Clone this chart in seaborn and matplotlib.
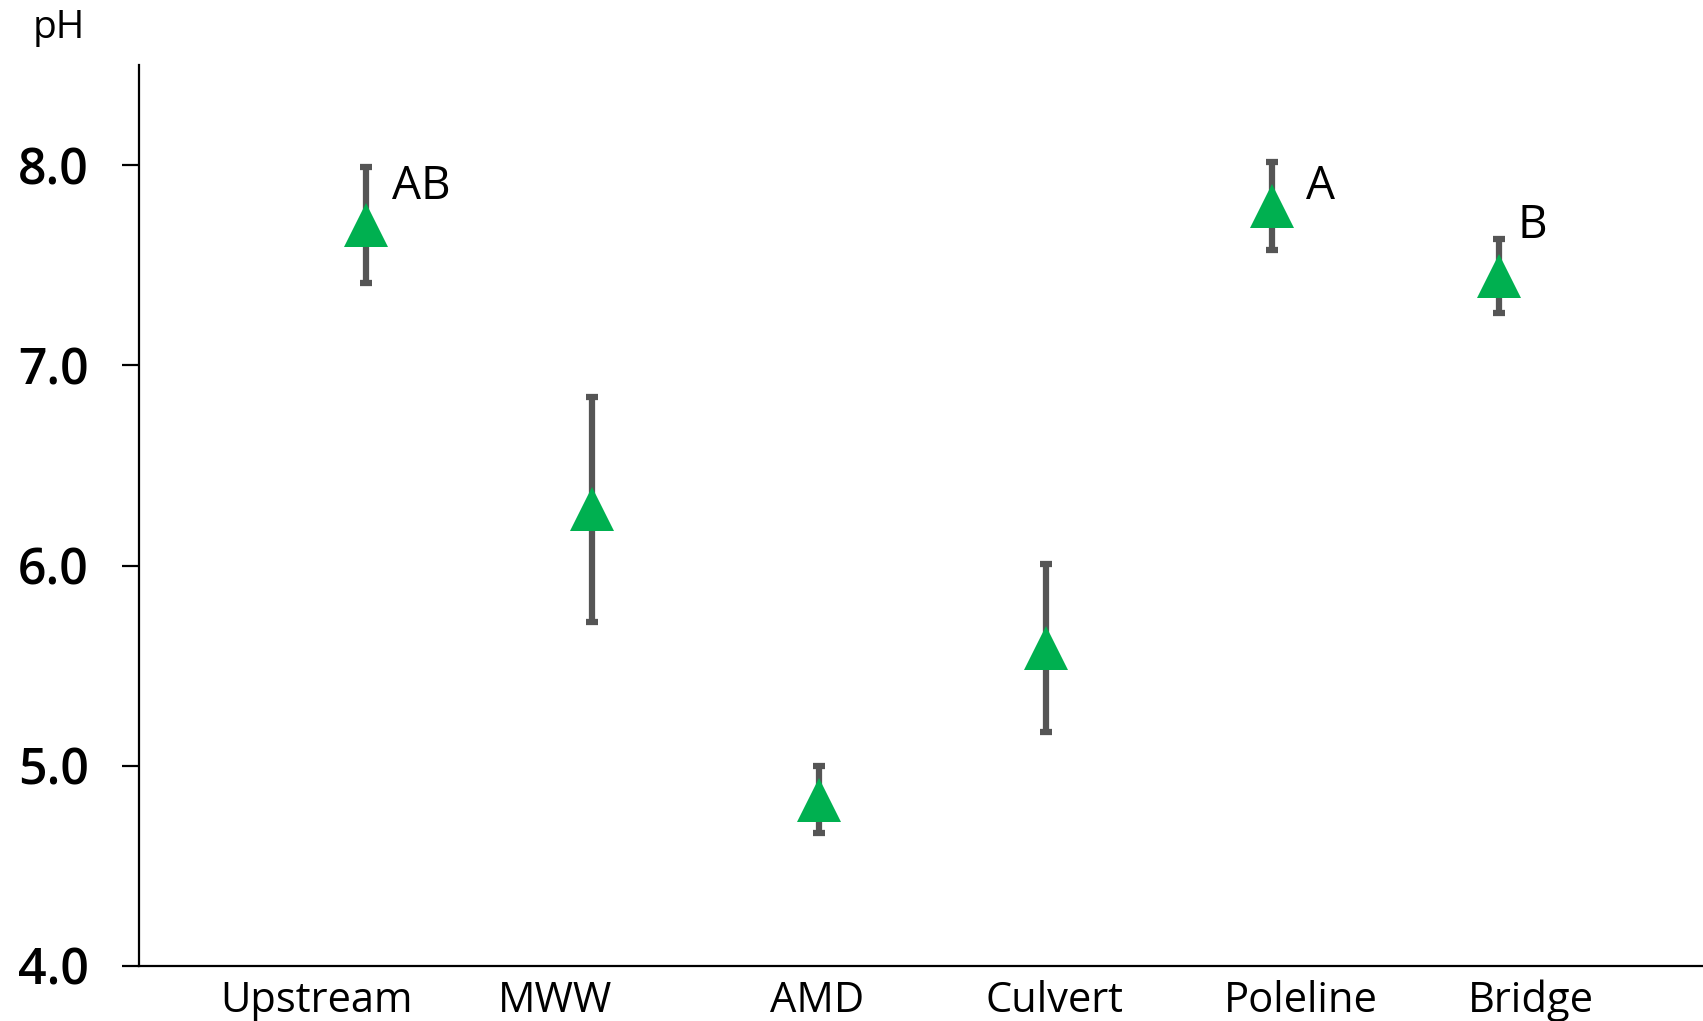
import matplotlib
matplotlib.use("Agg")
import matplotlib.pyplot as plt
import numpy as np
import seaborn as sns

sites = ["Upstream", "MWW", "AMD", "Culvert", "Poleline", "Bridge"]
ph_mean = [7.70, 6.28, 4.83, 5.59, 7.795, 7.447]
ph_err = [0.29, 0.56, 0.167, 0.42, 0.22, 0.185]
letters = ["AB", "", "", "", "A", "B"]
letter_y = [7.83, None, None, None, 7.83, 7.637]
yticks = [4.0, 5.0, 6.0, 7.0, 8.0]

sns.set_style("white")
plt.rcParams["font.family"] = ["Open Sans", "DejaVu Sans"]
plt.rcParams["text.color"] = "black"
plt.rcParams["xtick.color"] = "black"
plt.rcParams["ytick.color"] = "black"

fig = plt.figure(figsize=(17.03, 10.21), dpi=100)
ax = fig.add_axes([0.0816, 0.0539, 0.9184, 0.8824])

sns.pointplot(x=sites, y=ph_mean, errorbar=None, color="#00B050",
              marker="^", markersize=31, linestyle="none",
              markeredgewidth=0, ax=ax, zorder=3)

pos = np.arange(len(sites))
ax.errorbar(pos, ph_mean, yerr=ph_err, fmt="none", ecolor="#555555",
            elinewidth=4.5, capsize=4.3, capthick=4.5, zorder=1)

for i, (txt, ly) in enumerate(zip(letters, letter_y)):
    if txt:
        dx = {"AB": 0.115, "A": 0.15, "B": 0.08}[txt]
        ax.text(i + dx, ly, txt, fontsize=33, va="baseline", ha="left")

ax.set_xlim(-1.0, 5.9)
ax.set_ylim(4.0, 8.5)
ax.set_yticks(yticks)
ax.set_yticklabels([f"{v:.1f}" for v in yticks], fontsize=36, fontweight="semibold")

# category labels sit a little off the markers in the original
label_shift = [-0.216, -0.163, -0.009, 0.037, 0.124, 0.139]
ax.set_xticks(pos + np.array(label_shift))
ax.set_xticklabels(sites, fontsize=30)

ax.tick_params(axis="x", length=0, pad=10)
ax.tick_params(axis="y", left=True, length=12, width=1.6, pad=24, color="black")
ax.set_xlabel("")
ax.set_ylabel("")
for side in ["top", "right"]:
    ax.spines[side].set_visible(False)
for side in ["left", "bottom"]:
    ax.spines[side].set_color("black")
    ax.spines[side].set_linewidth(1.6)

fig.text(33 / 1703, 1 - 38 / 1021, "pH", fontsize=28, va="baseline", ha="left")

fig.savefig("out.png", dpi=100)
